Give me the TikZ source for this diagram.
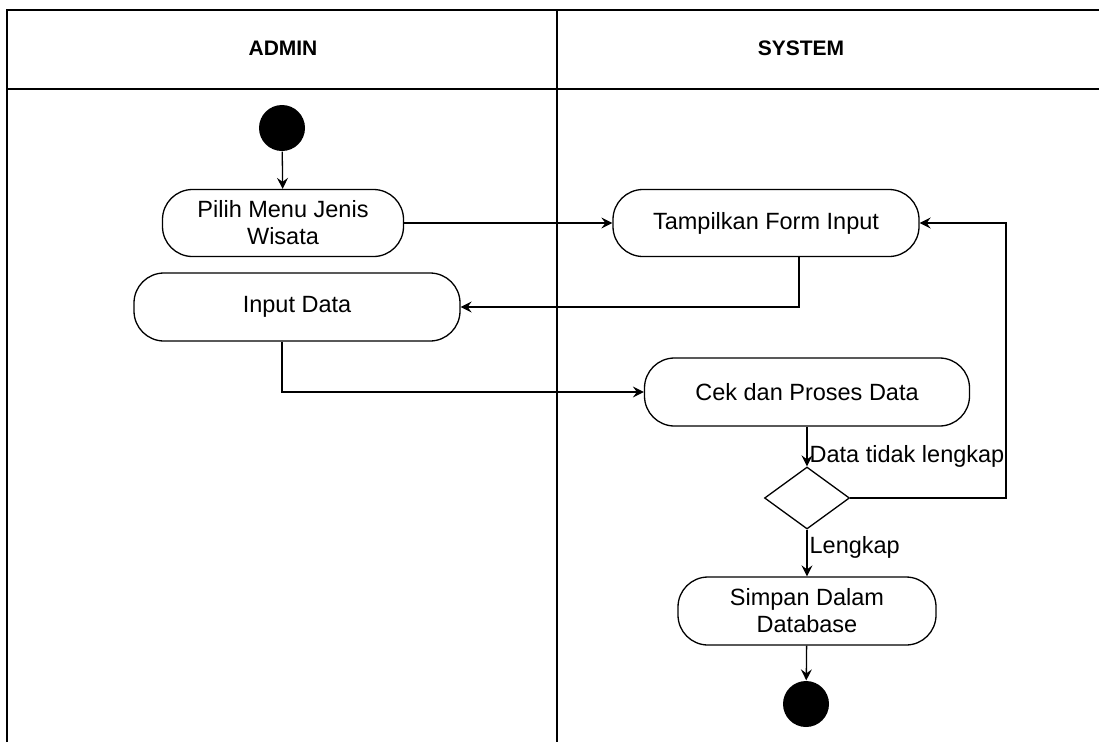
\documentclass[tikz,border=0pt]{standalone}
\usepackage{fontspec}
\setmainfont{Liberation Sans}
\usetikzlibrary{arrows.meta, shapes.geometric}
\tikzset{
  actnode/.style = {align=center, inner sep=0pt, text centered,
    font=\fontsize{23.5}{27}\selectfont},
  act_n/.style = {actnode, rectangle, rounded corners=30pt, draw=black,
    line width=1.3pt, fill=white},
  dot_n/.style = {circle, fill=black, inner sep=0pt, minimum size=46pt},
  dec_n/.style = {diamond, draw=black, line width=1.3pt, inner sep=0pt,
    minimum width=85pt, minimum height=62pt},
  lane_h/.style = {font=\fontsize{21}{24}\selectfont\bfseries},
  cond_l/.style = {font=\fontsize{23.5}{26}\selectfont, inner sep=2pt}}

\begin{document}
\begin{tikzpicture}[x=1pt, y=-1pt, ->, >={Stealth[length=11pt, width=11pt, inset=4pt]},
  line width=1.3pt]
 \useasboundingbox (0,0) rectangle (1099,742);

 % swimlanes
 \draw[-, line width=2pt] (7,742) -- (7,10) -- (1099,10);
 \draw[-, line width=2pt] (7,89) -- (1099,89);
 \draw[-, line width=2pt] (557,10) -- (557,742);
 \node [lane_h] (admin) at (283,48) {ADMIN};
 \node [lane_h] (system) at (801,48) {SYSTEM};

 % admin
 \node [dot_n] (start) at (282,128) {};
 \node [act_n, minimum width=241pt, minimum height=67pt] (pilih) at (283,223) {Pilih Menu Jenis\\Wisata};
 \node [act_n, minimum width=326pt, minimum height=68pt] (input) at (297,307) {Input Data};

 % system
 \node [act_n, minimum width=306pt, minimum height=67pt] (tampil) at (766,223) {Tampilkan Form Input};
 \node [act_n, minimum width=325pt, minimum height=68pt] (cek) at (807,392) {Cek dan Proses Data};
 \node [dec_n] (cekdata) at (807,498) {};
 \node [act_n, minimum width=258pt, minimum height=68pt] (simpan) at (807,611) {Simpan Dalam\\Database};
 \node [dot_n] (stop) at (806,704) {};
 \coordinate (back) at (1006,223);

 \draw (start) -- (pilih);
 \draw (pilih.east) -- (tampil.west);
 \draw ([xshift=33pt]tampil.south) |- (input.east);
 \draw ([xshift=-15pt]input.south) |- (cek.west);
 \draw (cek.south) -- (cekdata.north)
   node [cond_l, pos=0.75, right] {Data tidak lengkap};
 \draw (cekdata.east) -| (back) -- (tampil.east);
 \draw (cekdata.south) -- (simpan.north)
   node [cond_l, pos=0.37, right] {Lengkap};
 \draw (simpan) -- (stop);
\end{tikzpicture}
\end{document}
